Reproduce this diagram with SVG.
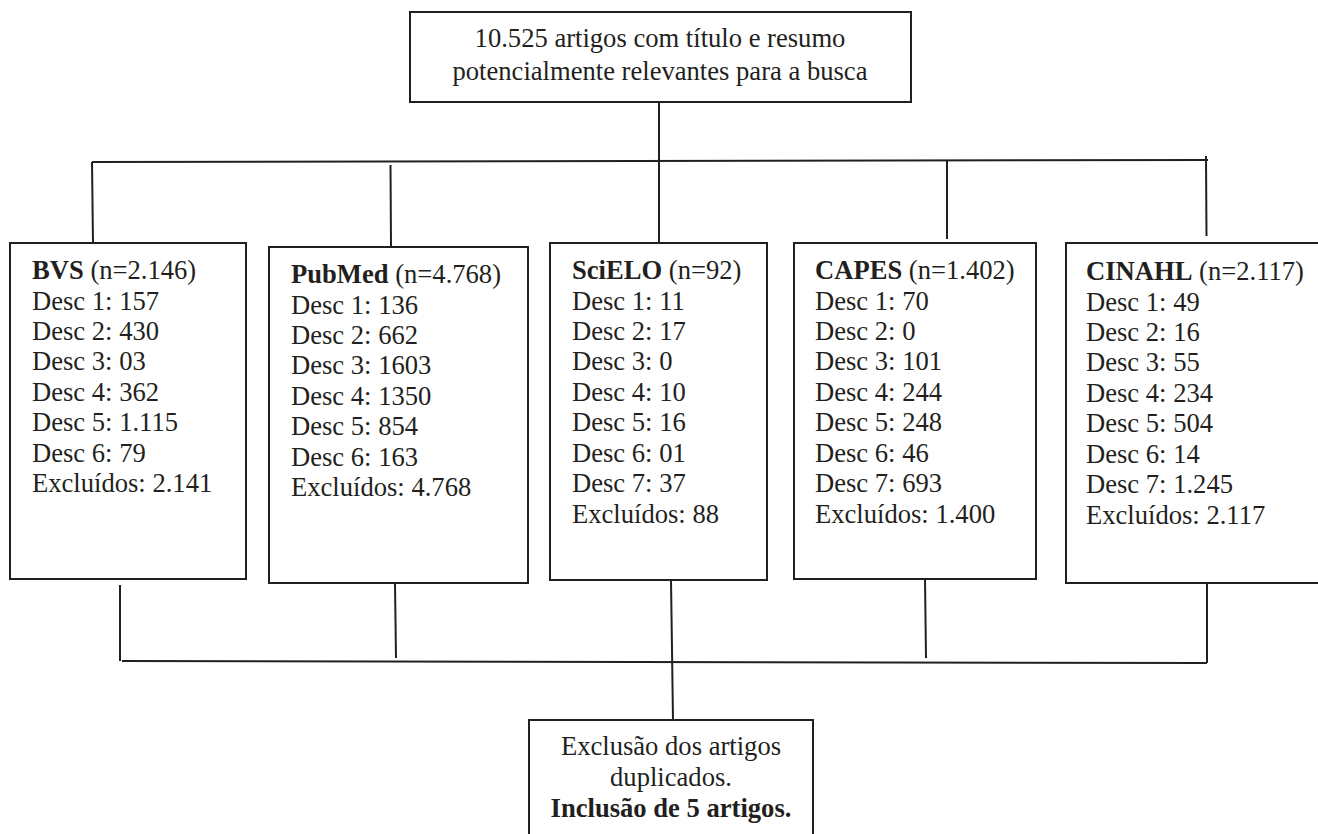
<svg xmlns="http://www.w3.org/2000/svg" width="1318" height="834" viewBox="0 0 1318 834">
<style>
.box{fill:#fff;stroke:#231f20;stroke-width:2}
.t{font-family:'Liberation Serif','Times New Roman',Tinos,'Noto Serif','DejaVu Serif',serif;font-size:26.6px;fill:#231f20;font-weight:normal;font-style:normal}
.b{font-weight:bold}
.c{text-anchor:middle}
.ln{stroke:#231f20;stroke-width:2;fill:none}
</style>
<rect width="1318" height="834" fill="#fff"/>
<g id="connectors">
<line class="ln" x1="659" y1="102" x2="659" y2="243"/>
<line class="ln" x1="92" y1="162" x2="1208" y2="160"/>
<line class="ln" x1="92" y1="162" x2="93" y2="243"/>
<line class="ln" x1="390.5" y1="165" x2="391" y2="246"/>
<line class="ln" x1="947" y1="161" x2="947" y2="239"/>
<line class="ln" x1="1206" y1="156" x2="1206.5" y2="236"/>
<line class="ln" x1="120" y1="585" x2="120" y2="661"/>
<line class="ln" x1="122" y1="661" x2="1207" y2="663"/>
<line class="ln" x1="395" y1="584" x2="396" y2="658"/>
<line class="ln" x1="671" y1="580" x2="673" y2="720"/>
<line class="ln" x1="925" y1="578" x2="926" y2="658"/>
<line class="ln" x1="1207" y1="584" x2="1207" y2="663"/>
</g>
<g id="top">
<rect class="box" x="410" y="12" width="501" height="90"/>
<text class="t c" x="660" y="47">10.525 artigos com título e resumo</text>
<text class="t c" x="660" y="80">potencialmente relevantes para a busca</text>
</g>
<g id="bvs">
<rect class="box" x="10" y="243" width="236" height="336"/>
<text class="t" x="32" y="279"><tspan class="b">BVS</tspan> (n=2.146)</text>
<text class="t" x="32" y="310">Desc 1: 157</text>
<text class="t" x="32" y="340">Desc 2: 430</text>
<text class="t" x="32" y="370">Desc 3: 03</text>
<text class="t" x="32" y="401">Desc 4: 362</text>
<text class="t" x="32" y="431">Desc 5: 1.115</text>
<text class="t" x="32" y="462">Desc 6: 79</text>
<text class="t" x="32" y="492">Excluídos: 2.141</text>
</g>
<g id="pubmed">
<rect class="box" x="269" y="247" width="259" height="336"/>
<text class="t" x="291" y="283"><tspan class="b">PubMed</tspan> (n=4.768)</text>
<text class="t" x="291" y="314">Desc 1: 136</text>
<text class="t" x="291" y="344">Desc 2: 662</text>
<text class="t" x="291" y="374">Desc 3: 1603</text>
<text class="t" x="291" y="405">Desc 4: 1350</text>
<text class="t" x="291" y="435">Desc 5: 854</text>
<text class="t" x="291" y="466">Desc 6: 163</text>
<text class="t" x="291" y="496">Excluídos: 4.768</text>
</g>
<g id="scielo">
<rect class="box" x="550" y="243" width="217" height="337"/>
<text class="t" x="572" y="279"><tspan class="b">SciELO</tspan> (n=92)</text>
<text class="t" x="572" y="310">Desc 1: 11</text>
<text class="t" x="572" y="340">Desc 2: 17</text>
<text class="t" x="572" y="370">Desc 3: 0</text>
<text class="t" x="572" y="401">Desc 4: 10</text>
<text class="t" x="572" y="431">Desc 5: 16</text>
<text class="t" x="572" y="462">Desc 6: 01</text>
<text class="t" x="572" y="492">Desc 7: 37</text>
<text class="t" x="572" y="523">Excluídos: 88</text>
</g>
<g id="capes">
<rect class="box" x="794" y="243" width="242" height="336"/>
<text class="t" x="815" y="279"><tspan class="b">CAPES</tspan> (n=1.402)</text>
<text class="t" x="815" y="310">Desc 1: 70</text>
<text class="t" x="815" y="340">Desc 2: 0</text>
<text class="t" x="815" y="370">Desc 3: 101</text>
<text class="t" x="815" y="401">Desc 4: 244</text>
<text class="t" x="815" y="431">Desc 5: 248</text>
<text class="t" x="815" y="462">Desc 6: 46</text>
<text class="t" x="815" y="492">Desc 7: 693</text>
<text class="t" x="815" y="523">Excluídos: 1.400</text>
</g>
<g id="cinahl">
<rect class="box" x="1066" y="243" width="270" height="340"/>
<text class="t" x="1086" y="280"><tspan class="b">CINAHL</tspan> (n=2.117)</text>
<text class="t" x="1086" y="311">Desc 1: 49</text>
<text class="t" x="1086" y="341">Desc 2: 16</text>
<text class="t" x="1086" y="371">Desc 3: 55</text>
<text class="t" x="1086" y="402">Desc 4: 234</text>
<text class="t" x="1086" y="432">Desc 5: 504</text>
<text class="t" x="1086" y="463">Desc 6: 14</text>
<text class="t" x="1086" y="493">Desc 7: 1.245</text>
<text class="t" x="1086" y="524">Excluídos: 2.117</text>
</g>
<g id="result">
<rect class="box" x="529" y="720" width="284" height="130"/>
<text class="t c" x="671" y="755">Exclusão dos artigos</text>
<text class="t c" x="671" y="786">duplicados.</text>
<text class="t c b" x="671" y="817">Inclusão de 5 artigos.</text>
</g>
</svg>
